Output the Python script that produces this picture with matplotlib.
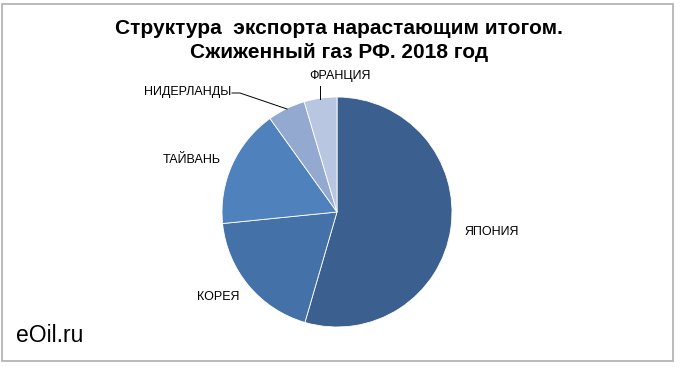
import matplotlib.pyplot as plt
from matplotlib.patches import Rectangle

# Export structure, LNG Russia 2018 (shares, %)
countries = ['ЯПОНИЯ', 'КОРЕЯ', 'ТАЙВАНЬ', 'НИДЕРЛАНДЫ', 'ФРАНЦИЯ']
shares = [54.5, 18.9, 16.7, 5.3, 4.6]
colors = ['#3b5f8e', '#4472a8', '#4f81bd', '#94a9cf', '#b9c6e2']

plt.rcParams['font.family'] = ['Liberation Sans', 'DejaVu Sans']

W, H = 680, 367
fig = plt.figure(figsize=(W / 100, H / 100), dpi=100)
ax = fig.add_axes([0, 0, 1, 1])

# pie in pixel coordinates (y measured from the bottom)
cx, cy, r = 337, H - 212, 115
ax.pie(shares, colors=colors, startangle=90, counterclock=False,
       center=(cx, cy), radius=r,
       wedgeprops=dict(edgecolor='white', linewidth=0.6))
ax.set_xlim(0, W)
ax.set_ylim(0, H)
ax.set_aspect('auto')
ax.axis('off')

# frame around the chart
ax.add_patch(Rectangle((1.8, 6), 671, 357, fill=False,
                       edgecolor='#b4b4b4', linewidth=1.3))

# title
ax.text(339, H - 29, 'Структура  экспорта нарастающим итогом.', ha='center', va='center',
        fontsize=15, fontweight='bold')
ax.text(339, H - 52, 'Сжиженный газ РФ. 2018 год', ha='center', va='center',
        fontsize=15, fontweight='bold')

# labels
lab = dict(fontsize=9, va='center')
ax.text(492, H - 232, countries[0], ha='center', **lab)
ax.text(218, H - 297, countries[1], ha='center', **lab)
ax.text(192, H - 160, countries[2], ha='center', **lab)
ax.text(231, H - 92, countries[3], ha='right', **lab)
ax.text(340, H - 76, countries[4], ha='center', **lab)

# leader lines
ax.plot([232, 240, 287], [H - 93, H - 93, H - 109], color='black', linewidth=0.7)
ax.plot([320, 320], [H - 86, H - 99], color='black', linewidth=0.7)

ax.text(16, H - 336, 'eOil.ru', ha='left', va='center', fontsize=16.5)

fig.savefig('out.png', dpi=100)
